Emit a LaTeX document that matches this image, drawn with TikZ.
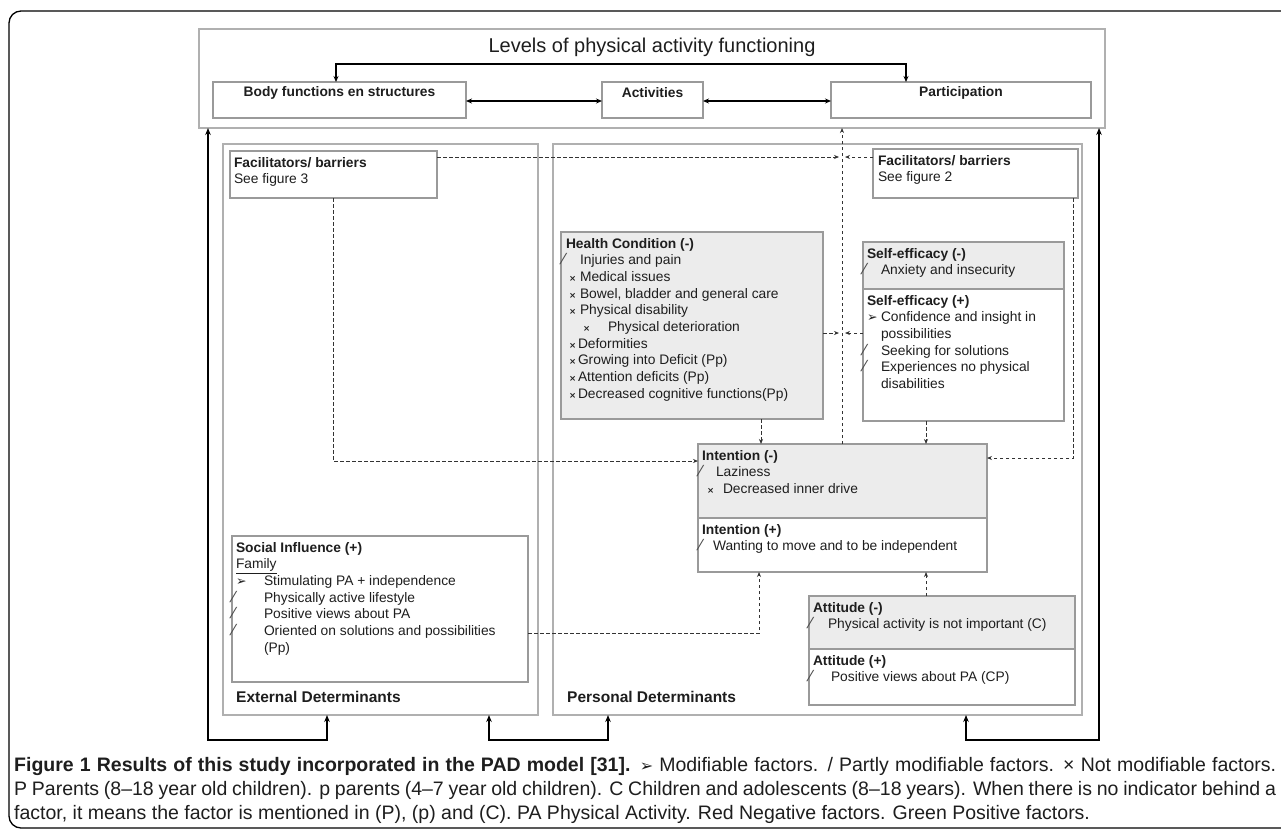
\documentclass[tikz,border=0pt]{standalone}
\usepackage{fontspec}
\setmainfont{Liberation Sans}
\newfontfamily\capfont{Liberation Sans}
\newfontfamily\symfont{DejaVu Sans}
\usetikzlibrary{arrows.meta,calc}
\definecolor{boxline}{HTML}{9A9A9A}
\definecolor{detline}{HTML}{B0B0B0}
\definecolor{negfill}{HTML}{ECECEC}
\definecolor{txtc}{HTML}{1E1E1E}
\definecolor{dashc}{HTML}{333333}
\newcommand\Sl{{\symfont\fontsize{15}{15}\selectfont\color{txtc!80}⁄}}
\newcommand\Xx{{\symfont\bfseries\fontsize{8.5}{8.5}\selectfont ×}}
\newcommand\Ar{{\symfont\fontsize{12.5}{12.5}\selectfont ➢}}
\newcommand\Bu[3]{\makebox[#1pt][l]{\hspace*{#2pt}#3}}
\tikzset{
  box/.style={draw=boxline, line width=1.1pt, inner sep=0pt, outer sep=0pt, anchor=north west},
  negbox/.style={box, fill=negfill},
  detbox/.style={draw=detline, line width=1.5pt, inner sep=0pt, outer sep=0pt, anchor=north west},
  txt/.style={anchor=north west, inner sep=0pt, outer sep=0pt, align=left, text=txtc, font=\fontsize{13.8}{16.7}\selectfont},
  lbl/.style={inner sep=0pt, outer sep=0pt, text=txtc, font=\bfseries\fontsize{13.8}{16}\selectfont},
  dsh/.style={draw=dashc, line width=0.9pt, dash pattern=on 3.5pt off 2.5pt, -{Stealth[length=5pt,width=4pt]}},
  blk/.style={draw=black, line width=1.8pt, {Stealth[length=7pt,width=5.5pt]}-{Stealth[length=7pt,width=5.5pt]}},
  blkin/.style={draw=black, line width=1.4pt, {Stealth[length=6pt,width=5pt]}-{Stealth[length=6pt,width=5pt]}}
}
\begin{document}
\begin{tikzpicture}[x=1pt,y=-1pt]
\useasboundingbox[fill=white] (0,0) rectangle (1281,836);
% outer frame
\draw[line width=1.3pt, rounded corners=12pt] (9,11) rectangle (1310,828);

% helper coordinates
\foreach \n/\v in {c208/208,c327/327,c333/333,c336/336,c489/489,c608/608,c759/759,c761/761,c842/842,c906/906,c926/926,c966/966,c1073/1073,c1099/1099}
  \coordinate (\n) at (\v,0);
\foreach \n/\v in {r64/64,r101/101,r157/157,r333/333,r458/458,r461/461,r633/633,r740/740}
  \coordinate (\n) at (0,\v);

% levels
\node[box, minimum width=906pt, minimum height=99pt, draw=detline] (levels) at (199,29) {};
\node[inner sep=0pt, text=txtc, font=\fontsize{20}{22}\selectfont] (title) at (652,47) {Levels of physical activity functioning};
\node[box, minimum width=253pt, minimum height=36pt] (body) at (213,82) {};
\node[box, minimum width=101pt, minimum height=36pt] (act) at (602,82) {};
\node[box, minimum width=260pt, minimum height=36pt] (part) at (831,82) {};
\node[lbl] (tbody) at ($(body.north)+(0,11)$) {Body functions en structures};
\node[lbl] (tact) at ($(act.north)+(0,11)$) {Activities};
\node[lbl] (tpart) at ($(part.north)+(0,11)$) {Participation};
\draw[blkin] (body.north -| c336) -- (c336 |- r64) -| (part.north -| c906);
\draw[blkin] (body.east |- r101) -- (act.west |- r101);
\draw[blkin] (act.east |- r101) -- (part.west |- r101);

% determinant boxes
\node[detbox, minimum width=315pt, minimum height=571pt] (ext) at (223,144) {};
\node[detbox, minimum width=529pt, minimum height=571pt] (pers) at (553,144) {};
\node[anchor=west, inner sep=0pt, text=txtc, font=\bfseries\fontsize{15.5}{17}\selectfont] (extlbl) at (236,697) {External Determinants};
\node[anchor=west, inner sep=0pt, text=txtc, font=\bfseries\fontsize{15.5}{17}\selectfont] (perslbl) at (567,697) {Personal Determinants};

% facilitators
\node[box, fill=white, minimum width=207pt, minimum height=47pt] (fac3) at (230,151) {};
\node[txt] (tfac3) at (230,157) {\hspace*{4pt}\textbf{Facilitators/ barriers}\\\hspace*{4pt}See figure 3};
\node[box, fill=white, minimum width=205pt, minimum height=49pt] (fac2) at (873,149) {};
\node[txt] (tfac2) at (873,155) {\hspace*{5pt}\textbf{Facilitators/ barriers}\\\hspace*{5pt}See figure 2};

% health condition
\node[negbox, minimum width=262pt, minimum height=187pt] (health) at (561,232) {};
\node[txt] (thealth) at (562,238) {\hspace*{4pt}\textbf{Health Condition (-)}\\
\Bu{18}{0}{\Sl}Injuries and pain\\
\Bu{18}{7}{\Xx}Medical issues\\
\Bu{18}{7}{\Xx}Bowel, bladder and general care\\
\Bu{18}{7}{\Xx}Physical disability\\
\Bu{46}{21}{\Xx}Physical deterioration\\
\Bu{16}{7}{\Xx}Deformities\\
\Bu{16}{7}{\Xx}Growing into Deficit (Pp)\\
\Bu{16}{7}{\Xx}Attention deficits (Pp)\\
\Bu{16}{7}{\Xx}Decreased cognitive functions(Pp)};

% self-efficacy
\node[negbox, minimum width=201pt, minimum height=47pt] (seneg) at (863,242) {};
\node[box, fill=white, minimum width=201pt, minimum height=132pt] (sepos) at (863,289) {};
\node[txt] (tseneg) at (863,248) {\hspace*{4pt}\textbf{Self-efficacy (-)}\\\Bu{18}{0}{\Sl}Anxiety and insecurity};
\node[txt] (tsepos) at (863,295) {\hspace*{4pt}\textbf{Self-efficacy (+)}\\
\Bu{18}{4}{\Ar}Confidence and insight in\\
\hspace*{18pt}possibilities\\
\Bu{18}{0}{\Sl}Seeking for solutions\\
\Bu{18}{0}{\Sl}Experiences no physical\\
\hspace*{18pt}disabilities};

% intention
\node[negbox, minimum width=289pt, minimum height=74pt] (inneg) at (698,444) {};
\node[box, fill=white, minimum width=289pt, minimum height=54pt] (inpos) at (698,518) {};
\node[txt] (tinneg) at (698,450) {\hspace*{4pt}\textbf{Intention (-)}\\
\Bu{18}{1}{\Sl}Laziness\\
\Bu{25}{9}{\Xx}Decreased inner drive};
\node[txt] (tinpos) at (698,524) {\hspace*{4pt}\textbf{Intention (+)}\\
\Bu{15}{1}{\Sl}Wanting to move and to be independent};

% attitude
\node[negbox, minimum width=266pt, minimum height=53pt] (atneg) at (809,596) {};
\node[box, fill=white, minimum width=266pt, minimum height=56pt] (atpos) at (809,649) {};
\node[txt] (tatneg) at (809,602) {\hspace*{4pt}\textbf{Attitude (-)}\\
\Bu{19}{0}{\Sl}Physical activity is not important (C)};
\node[txt] (tatpos) at (809,655) {\hspace*{4pt}\textbf{Attitude (+)}\\
\Bu{22}{0}{\Sl}Positive views about PA (CP)};

% social influence
\node[box, fill=white, minimum width=296pt, minimum height=146pt] (soc) at (232,536) {};
\node[txt] (tsoc) at (232,542) {\hspace*{4pt}\textbf{Social Influence (+)}\\
\hspace*{4pt}\underline{Family}\\
\Bu{32}{4}{\Ar}Stimulating PA + independence\\
\Bu{32}{0}{\Sl}Physically active lifestyle\\
\Bu{32}{0}{\Sl}Positive views about PA\\
\Bu{32}{0}{\Sl}Oriented on solutions and possibilities\\
\hspace*{32pt}(Pp)};

% dashed connectors
\coordinate (m1) at (839,157);
\coordinate (m2) at (845,157);
\coordinate (m3) at (839,333);
\coordinate (m4) at (845,333);
\draw[dsh] (inneg.north -| c842) -- (levels.south -| c842);
\draw[dsh] (fac3.east |- r157) -- (m1);
\draw[dsh] (fac2.west |- r157) -- (m2);
\draw[dsh] (health.east |- r333) -- (m3);
\draw[dsh] (sepos.west |- r333) -- (m4);
\draw[dsh] (health.south -| c761) -- (inneg.north -| c761);
\draw[dsh] (sepos.south -| c926) -- (inneg.north -| c926);
\draw[dsh] (fac3.south -| c333) |- (inneg.west |- r461);
\draw[dsh] (fac2.south -| c1073) |- (inneg.east |- r458);
\draw[dsh] (soc.east |- r633) -| (inpos.south -| c759);
\draw[dsh] (atneg.north -| c926) -- (inpos.south -| c926);

% solid outer connectors
\draw[blk] (ext.south -| c327) -- (c327 |- r740) -| (levels.south -| c208);
\draw[blk] (ext.south -| c489) -- (c489 |- r740) -| (pers.south -| c608);
\draw[blk] (pers.south -| c966) -- (c966 |- r740) -| (levels.south -| c1099);

% caption
\node[anchor=north west, inner sep=0pt, text width=1262pt, align=justify, text=txtc,
      font=\capfont\fontsize{19.5}{24}\selectfont] (caption) at (14,757)
{\textbf{Figure 1 Results of this study incorporated in the PAD model [31].} {\symfont\fontsize{16}{16}\selectfont ➢} Modifiable factors. / Partly modifiable factors. × Not modifiable factors.\linebreak
P Parents (8–18 year old children). p parents (4–7 year old children). C Children and adolescents (8–18 years). When there is no indicator behind a\linebreak
factor, it means the factor is mentioned in (P), (p) and (C). PA Physical Activity. Red Negative factors. Green Positive factors.};
\end{tikzpicture}
\end{document}
